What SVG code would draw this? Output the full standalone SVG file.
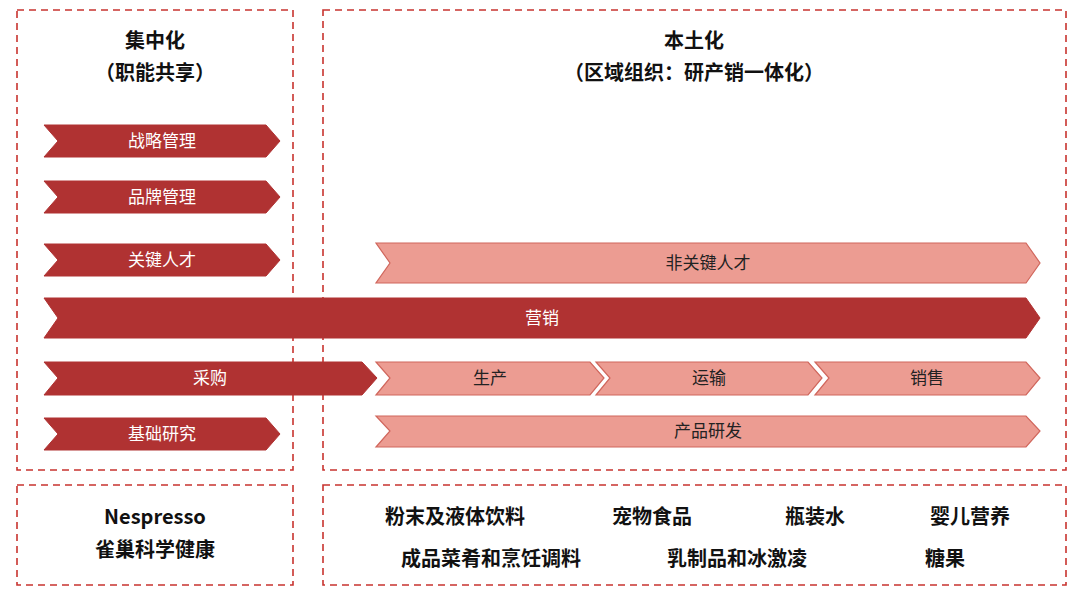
<svg xmlns="http://www.w3.org/2000/svg" width="1080" height="597" viewBox="0 0 1080 597">
<style>
.box{fill:none;stroke:#C8332F;stroke-width:1.6;stroke-dasharray:7,5}
.d{fill:#B03232;stroke:#B03232}
.l{fill:#EC9C92;stroke:#D0665C;stroke-width:1.2}
text{font-family:"Noto Sans CJK SC","Noto Sans",sans-serif;text-anchor:middle}
.wt{fill:#fff;font-size:17px}
.bt{fill:#222;font-size:17px}
.h{fill:#111;font-size:20px;font-weight:bold}
</style>
<rect width="1080" height="597" fill="#fff"/>
<g id="frames">
<rect class="box" x="17" y="10" width="276" height="460"/>
<rect class="box" x="323" y="10" width="743" height="460"/>
<rect class="box" x="17" y="485" width="276" height="100"/>
<rect class="box" x="323" y="485" width="743" height="100"/>
</g>
<g id="titles">
<text class="h" x="155" y="48">集中化</text>
<text class="h" x="155" y="80">（职能共享）</text>
<text class="h" x="694" y="48">本土化</text>
<text class="h" x="694" y="80">（区域组织：研产销一体化）</text>
</g>
<g id="n1"><path class="d" d="M44,125 H266 L280,141 L266,157 H44 L58,141 Z"/><text class="wt" x="162" y="147">战略管理</text></g>
<g id="n2"><path class="d" d="M44,181 H266 L280,197 L266,213 H44 L58,197 Z"/><text class="wt" x="162" y="203">品牌管理</text></g>
<g id="n3"><path class="d" d="M44,244 H266 L280,260 L266,276 H44 L58,260 Z"/><text class="wt" x="162" y="266">关键人才</text></g>
<g id="n4"><path class="l" d="M376,243 H1026 L1040,263 L1026,283 H376 L390,263 Z"/><text class="bt" x="708" y="269">非关键人才</text></g>
<g id="n5"><path class="d" d="M44,298 H1026 L1040,318 L1026,338 H44 L58,318 Z"/><text class="wt" x="542" y="324">营销</text></g>
<g id="n6"><path class="d" d="M44,362 H362 L377,378 L362,395 H44 L58,378 Z"/><text class="wt" x="210" y="384">采购</text></g>
<g id="n7"><path class="l" d="M376,362 H590 L604,378 L590,395 H376 L390,378 Z"/><text class="bt" x="490" y="384">生产</text></g>
<g id="n8"><path class="l" d="M596,362 H808 L822,378 L808,395 H596 L610,378 Z"/><text class="bt" x="709" y="384">运输</text></g>
<g id="n9"><path class="l" d="M815,362 H1026 L1040,378 L1026,395 H815 L829,378 Z"/><text class="bt" x="927" y="384">销售</text></g>
<g id="n10"><path class="d" d="M44,418 H266 L280,434 L266,450 H44 L58,434 Z"/><text class="wt" x="162" y="440">基础研究</text></g>
<g id="n11"><path class="l" d="M376,416 H1026 L1040,431 L1026,447 H376 L390,431 Z"/><text class="bt" x="708" y="437">产品研发</text></g>
<g id="bottom">
<text class="h" x="155" y="524">Nespresso</text>
<text class="h" x="155" y="557">雀巢科学健康</text>
<text class="h" x="455" y="524">粉末及液体饮料</text>
<text class="h" x="652" y="524">宠物食品</text>
<text class="h" x="815" y="524">瓶装水</text>
<text class="h" x="970" y="524">婴儿营养</text>
<text class="h" x="491" y="566">成品菜肴和烹饪调料</text>
<text class="h" x="737" y="566">乳制品和冰激凌</text>
<text class="h" x="945" y="566">糖果</text>
</g>
<g id="connectors"/>
</svg>
